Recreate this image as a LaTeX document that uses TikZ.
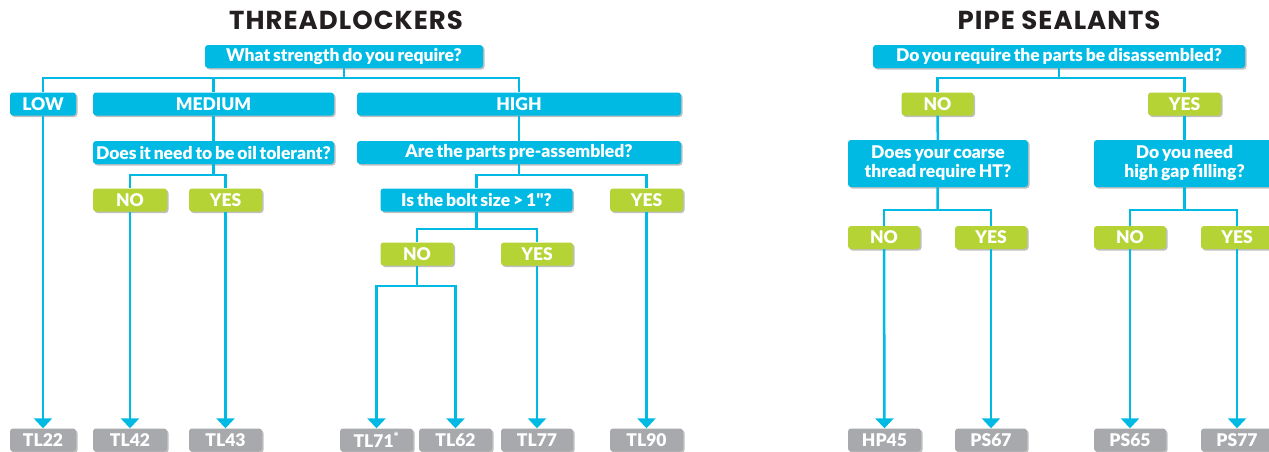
\documentclass[tikz,border=0pt]{standalone}
\usepackage{fontspec}
\setmainfont{Lato}
\newfontfamily\boxfont{Lato}[BoldFont={Lato Black}, WordSpace=0.7]
\newfontfamily\headfont[LetterSpace=4]{Poppins}
\usetikzlibrary{arrows.meta, shadows}
\definecolor{qblue}{RGB}{0,186,228}
\definecolor{agreen}{RGB}{181,211,52}
\definecolor{pgray}{RGB}{167,169,172}
\definecolor{tdark}{RGB}{35,31,32}
\tikzset{
  heading/.style = {text=tdark, font=\headfont\fontsize{26}{28}\selectfont\bfseries},
  question/.style = {rectangle, rounded corners=3pt, fill=qblue, text=white, minimum height=23pt, inner sep=0pt, align=center, font=\boxfont\fontsize{17.5}{19}\selectfont\bfseries, drop shadow={shadow xshift=1.5pt, shadow yshift=-1.5pt, opacity=.25, fill=black}},
  answer/.style = {question, fill=agreen},
  product/.style = {question, fill=pgray},
  flow/.style = {draw=qblue, line width=2.5pt},
  flowarrow/.style = {flow, -{Triangle[width=18pt, length=10pt]}}
}

\begin{document}
\begin{tikzpicture}[x=1pt, y=-1pt]
  \useasboundingbox (0,0) rectangle (1269,451);
  \fill[white] (0,0) rectangle (1269,451);

  % Threadlockers: strength
  \node (tltitle) [heading] at (346,20) {THREADLOCKERS};
  \node (strength) [question, minimum width=278pt] at (344,56.5) {What strength do you require?};
  \node (low) [question, minimum width=66pt] at (43,104) {LOW};
  \node (medium) [question, minimum width=241pt] at (213.5,104) {MEDIUM};
  \node (high) [question, minimum width=324pt] at (519,104) {HIGH};

  % Threadlockers: follow-up questions
  \node (oil) [question, minimum width=241pt] at (213.5,152.5) {Does it need to be oil tolerant?};
  \node (preassembled) [question, minimum width=324pt] at (519,152.5) {Are the parts pre-assembled?};
  \node (oilno) [answer, minimum width=74pt] at (130,200) {NO};
  \node (oilyes) [answer, minimum width=73pt] at (225.5,200) {YES};
  \node (bolt) [question, minimum width=192pt] at (476.5,200) {Is the bolt size > 1"?};
  \node (preyes) [answer, minimum width=73pt] at (646.5,200) {YES};
  \node (boltno) [answer, minimum width=73pt] at (417,254) {NO};
  \node (boltyes) [answer, minimum width=72pt] at (537,254) {YES};

  % Threadlockers: products
  \node (tl22) [product, minimum width=66pt] at (43,440) {TL22};
  \node (tl42) [product, minimum width=74pt] at (130,440) {TL42};
  \node (tl43) [product, minimum width=73pt] at (225.5,440) {TL43};
  \node (tl71) [product, minimum width=73pt] at (376.5,440) {TL71\textsuperscript{*}};
  \node (tl62) [product, minimum width=73pt] at (455.5,440) {TL62};
  \node (tl77) [product, minimum width=72pt] at (537,440) {TL77};
  \node (tl90) [product, minimum width=73pt] at (646.5,440) {TL90};

  % Threadlockers: connectors
  \coordinate (jstrength) at (344,78);
  \coordinate (joil) at (213.5,175);
  \coordinate (jpre) at (519,175);
  \coordinate (jbolt) at (476.5,229);
  \coordinate (jboltno) at (417,286);
  \draw[flow] (strength) -- (jstrength);
  \draw[flow] (low) |- (jstrength) -| (high);
  \draw[flow] (jstrength) -| (medium);
  \draw[flow] (medium) -- (oil);
  \draw[flow] (high) -- (preassembled);
  \draw[flow] (oil) -- (joil);
  \draw[flow] (oilno) |- (joil) -| (oilyes);
  \draw[flow] (preassembled) -- (jpre);
  \draw[flow] (bolt) |- (jpre) -| (preyes);
  \draw[flow] (bolt) -- (jbolt);
  \draw[flow] (boltno) |- (jbolt) -| (boltyes);
  \draw[flow] (boltno) -- (jboltno);
  \draw[flowarrow] (jboltno) -| (tl71);
  \draw[flowarrow] (jboltno) -| (tl62);
  \draw[flowarrow] (low) -- (tl22);
  \draw[flowarrow] (oilno) -- (tl42);
  \draw[flowarrow] (oilyes) -- (tl43);
  \draw[flowarrow] (boltyes) -- (tl77);
  \draw[flowarrow] (preyes) -- (tl90);

  % Pipe sealants: questions
  \node (pstitle) [heading] at (1059,20) {PIPE SEALANTS};
  \node (disassembled) [question, minimum width=372pt] at (1059,56.5) {Do you require the parts be disassembled?};
  \node (disno) [answer, minimum width=72pt] at (937.5,104) {NO};
  \node (disyes) [answer, minimum width=73pt] at (1184.5,104) {YES};
  \node (coarse) [question, minimum width=180pt, minimum height=47pt] at (938,163.5) {Does your coarse\\thread require HT?};
  \node (gap) [question, minimum width=181pt, minimum height=47pt] at (1184.5,163.5) {Do you need\\high gap filling?};
  \node (coarseno) [answer, minimum width=72pt] at (884,237.5) {NO};
  \node (coarseyes) [answer, minimum width=72pt] at (991,237.5) {YES};
  \node (gapno) [answer, minimum width=72pt] at (1130,237.5) {NO};
  \node (gapyes) [answer, minimum width=72pt] at (1237,237.5) {YES};

  % Pipe sealants: products
  \node (hp45) [product, minimum width=73pt] at (884.5,440) {HP45};
  \node (ps67) [product, minimum width=72pt] at (991,440) {PS67};
  \node (ps65) [product, minimum width=72pt] at (1130,440) {PS65};
  \node (ps77) [product, minimum width=72pt] at (1237,440) {PS77};

  % Pipe sealants: connectors
  \coordinate (jdis) at (1059,78);
  \coordinate (jcoarse) at (937.5,210);
  \coordinate (jgap) at (1184.5,210);
  \draw[flow] (disassembled) -- (jdis);
  \draw[flow] (disno) |- (jdis) -| (disyes);
  \draw[flow] (disno) -- (coarse);
  \draw[flow] (disyes) -- (gap);
  \draw[flow] (coarse) -- (jcoarse);
  \draw[flow] (coarseno) |- (jcoarse) -| (coarseyes);
  \draw[flow] (gap) -- (jgap);
  \draw[flow] (gapno) |- (jgap) -| (gapyes);
  \draw[flowarrow] (coarseno) -- (hp45);
  \draw[flowarrow] (coarseyes) -- (ps67);
  \draw[flowarrow] (gapno) -- (ps65);
  \draw[flowarrow] (gapyes) -- (ps77);
\end{tikzpicture}
\end{document}
